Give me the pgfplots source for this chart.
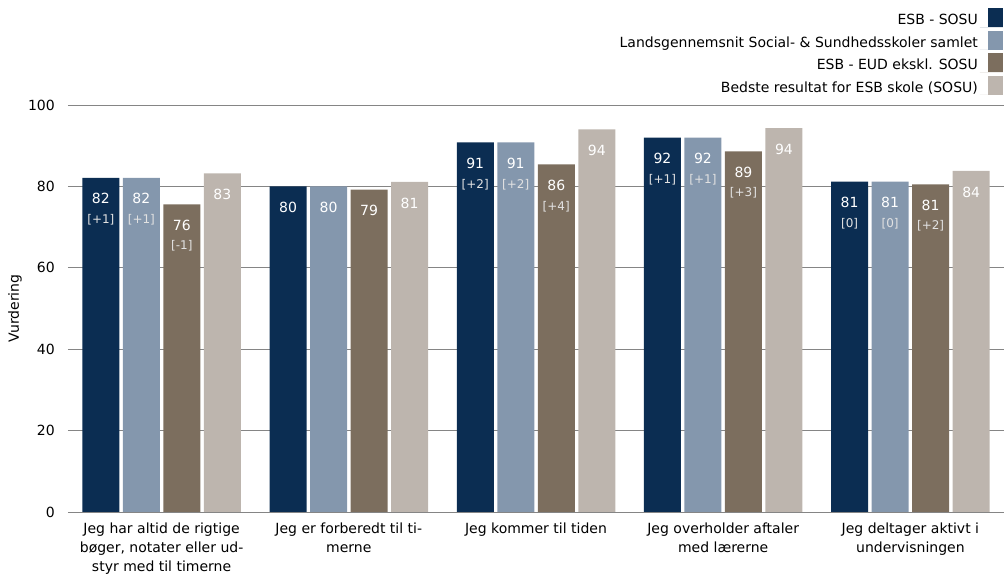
\documentclass[border=0pt]{standalone}
\usepackage{fontspec}
\setmainfont{DejaVu Sans}
\usepackage{pgfplots}
\pgfplotsset{compat=1.18}
\definecolor{cA}{HTML}{0B2D52}
\definecolor{cB}{HTML}{8497AD}
\definecolor{cC}{HTML}{7C6E5E}
\definecolor{cD}{HTML}{BDB5AE}
\definecolor{gridc}{HTML}{858585}
\definecolor{lightg}{HTML}{E2E2E2}
\DeclareRobustCommand\lbl[2]{{\fontsize{14}{19.5}\selectfont #1}\\{\fontsize{12}{19.5}\selectfont\color{lightg}[#2]}}
\DeclareRobustCommand\lbs[1]{{\fontsize{14}{19.5}\selectfont #1}}
\begin{document}
\begin{tikzpicture}
\begin{axis}[
  scale only axis, width=936pt, height=407pt,
  ybar=3.5pt, bar width=37pt,
  xmin=-0.5, xmax=4.5, ymin=0, ymax=100,
  xtick={0,1,2,3,4},
  xticklabels={{Jeg har altid de rigtige\\bøger, notater eller ud-\\styr med til timerne},
               {Jeg er forberedt til ti-\\merne},
               {Jeg kommer til tiden},
               {Jeg overholder aftaler\\med lærerne},
               {Jeg deltager aktivt i\\undervisningen}},
  x tick label style={align=center, font=\fontsize{14}{19}\selectfont, inner sep=0pt, yshift=-10.5pt, anchor=north},
  ytick={0,20,...,100},
  /pgf/number format/assume math mode=true,
  y tick label style={font=\fontsize{14}{16}\selectfont, inner sep=0pt, xshift=-13pt, anchor=east},
  ymajorgrids, grid style={color=gridc, line width=0.9pt},
  axis line style={draw=none}, major tick length=0pt, tick style={draw=none},
  ylabel={Vurdering},
  ylabel style={at={(axis description cs:-0.0566,0.5)}, anchor=center, font=\fontsize{14}{16}\selectfont},
  point meta=explicit symbolic,
  nodes near coords={\pgfplotspointmeta},
  every node near coord/.append style={anchor=north, yshift=-15.5pt, align=center, inner sep=0pt, text=white, font=\fontsize{14}{19.5}\selectfont},
  legend image code/.code={\path (0pt,-7pt) -- (23pt,-7pt); \fill[#1] (8pt,-7pt) rectangle (23pt,12pt);},
  legend style={at={(axis description cs:0.999,1.238)}, anchor=north east, draw=none, fill=none, inner sep=0pt,
    font=\fontsize{14}{16}\selectfont, row sep=2.5pt},
  legend cell align=right, legend plot pos=right,
]
\addplot[fill=cA, draw=none] coordinates {(0,82.1) [\lbl{82}{+1}] (1,80.0) [\lbs{80}] (2,90.8) [\lbl{91}{+2}] (3,92.0) [\lbl{92}{+1}] (4,81.2) [\lbl{81}{0}]};
\addplot[fill=cB, draw=none] coordinates {(0,82.1) [\lbl{82}{+1}] (1,80.0) [\lbs{80}] (2,90.8) [\lbl{91}{+2}] (3,92.0) [\lbl{92}{+1}] (4,81.2) [\lbl{81}{0}]};
\addplot[fill=cC, draw=none] coordinates {(0,75.6) [\lbl{76}{-1}] (1,79.2) [\lbs{79}] (2,85.4) [\lbl{86}{+4}] (3,88.6) [\lbl{89}{+3}] (4,80.5) [\lbl{81}{+2}]};
\addplot[fill=cD, draw=none] coordinates {(0,83.2) [\lbs{83}] (1,81.1) [\lbs{81}] (2,94.0) [\lbs{94}] (3,94.3) [\lbs{94}] (4,83.8) [\lbs{84}]};
\legend{ESB - SOSU, Landsgennemsnit Social- \& Sundhedsskoler samlet, ESB - EUD ekskl. SOSU, Bedste resultat for ESB skole (SOSU)}
\end{axis}
\pgfresetboundingbox
\useasboundingbox (-68pt,-63pt) rectangle (936pt,512pt);
\end{tikzpicture}
\end{document}
